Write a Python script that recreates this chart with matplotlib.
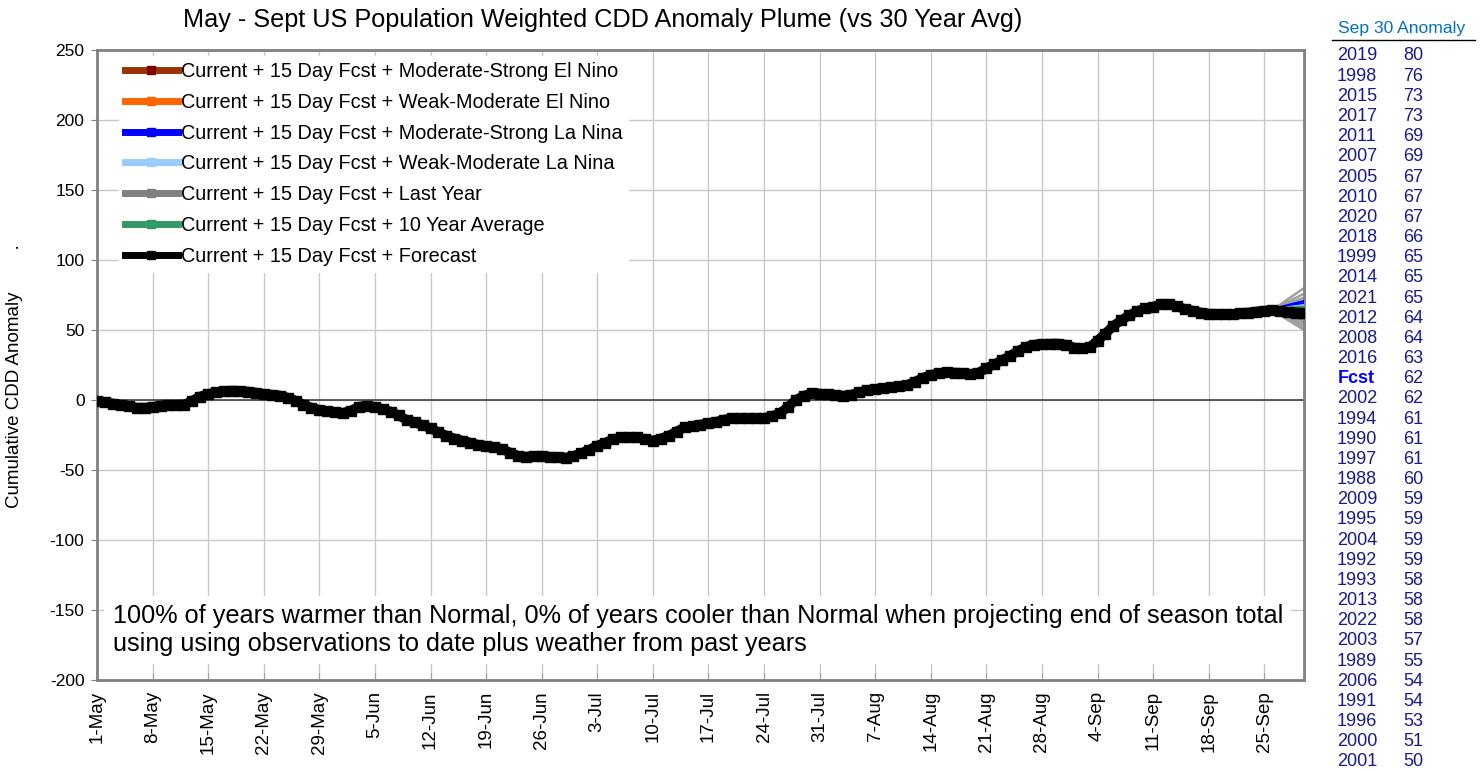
import matplotlib
matplotlib.use("Agg")
import matplotlib.pyplot as plt
from matplotlib.lines import Line2D

plt.rcParams['font.family'] = ['Liberation Sans', 'DejaVu Sans']
plt.rcParams['axes.unicode_minus'] = False

# cumulative CDD anomaly, one value per day from 1-May to 30-Sep
forecast = [
    -0.5, -1.5, -2.5, -3.5, -4.5, -5.5, -5.5, -5.0, -4.0, -3.8,
    -3.5, -3.3, -0.5, 2.5, 4.3, 5.5, 6.3, 6.7, 6.5, 6.0,
    5.3, 4.3, 3.8, 3.2, 1.7, -0.5, -3.3, -5.5, -7.0, -8.0,
    -8.8, -9.2, -7.5, -4.8, -4.2, -5.0, -6.5, -8.3, -11.0, -14.3,
    -16.0, -17.9, -20.2, -23.0, -25.5, -27.5, -29.0, -30.5, -32.0, -33.0,
    -33.5, -35.0, -37.5, -39.8, -40.5, -40.0, -39.8, -40.5, -41.0, -41.2,
    -40.0, -38.0, -35.5, -32.6, -30.5, -28.0, -26.7, -26.5, -26.7, -28.0,
    -29.0, -27.5, -25.5, -22.5, -19.5, -18.5, -17.5, -16.7, -15.5, -14.0,
    -12.9, -12.8, -12.9, -13.0, -12.9, -11.5, -9.5, -5.0, 0.0, 3.0,
    4.8, 4.6, 4.0, 3.4, 3.1, 3.8, 5.5, 7.0, 7.9, 8.5,
    9.2, 10.0, 10.7, 13.0, 15.8, 17.9, 19.0, 19.8, 19.6, 19.2,
    18.6, 19.5, 22.6, 25.5, 28.5, 31.7, 35.0, 38.0, 39.5, 40.0,
    40.2, 40.3, 39.5, 37.5, 36.9, 37.6, 42.4, 47.5, 53.0, 57.0,
    60.5, 63.5, 65.5, 66.7, 68.3, 68.5, 66.8, 65.0, 63.8, 62.5,
    61.7, 61.4, 61.2, 61.3, 61.9, 62.5, 63.2, 63.8, 64.2, 63.5,
    63.0, 62.5, 62.0,
]
plume_start_day = 148

scenario_names = [
    "Current + 15 Day Fcst + Moderate-Strong El Nino",
    "Current + 15 Day Fcst + Weak-Moderate El Nino",
    "Current + 15 Day Fcst + Moderate-Strong La Nina",
    "Current + 15 Day Fcst + Weak-Moderate La Nina",
    "Current + 15 Day Fcst + Last Year",
    "Current + 15 Day Fcst + 10 Year Average",
    "Current + 15 Day Fcst + Forecast",
]
scenario_end = [60, 61, 70, 67, 58, 66, 62]
scenario_colors = ['#993300', '#FF6600', '#0000FF', '#99CCFF', '#808080', '#339966', '#000000']
marker_colors = ['#800000', '#FF6600', '#0000FF', '#99CCFF', '#808080', '#339966', '#000000']

table_years = ['2019', '1998', '2015', '2017', '2011', '2007', '2005', '2010', '2020',
               '2018', '1999', '2014', '2021', '2012', '2008', '2016', 'Fcst', '2002',
               '1994', '1990', '1997', '1988', '2009', '1995', '2004', '1992', '1993',
               '2013', '2022', '2003', '1989', '2006', '1991', '1996', '2000', '2001']
table_values = [80, 76, 73, 73, 69, 69, 67, 67, 67, 66, 65, 65, 65, 64, 64, 63, 62, 62,
                61, 61, 61, 60, 59, 59, 59, 59, 58, 58, 58, 57, 55, 54, 54, 53, 51, 50]

tick_days = list(range(0, 148, 7))
tick_labels = ["1-May", "8-May", "15-May", "22-May", "29-May", "5-Jun", "12-Jun",
               "19-Jun", "26-Jun", "3-Jul", "10-Jul", "17-Jul", "24-Jul", "31-Jul",
               "7-Aug", "14-Aug", "21-Aug", "28-Aug", "4-Sep", "11-Sep", "18-Sep",
               "25-Sep"]

W, H = 1481, 772
fig = plt.figure(figsize=(W / 100, H / 100), dpi=100)
ax = fig.add_axes([97 / W, 1 - 680 / H, (1304 - 97) / W, (680 - 50) / H])

days = list(range(len(forecast)))
last = len(forecast) - 1
start_val = forecast[plume_start_day]

# past years plume
for yr, v in zip(table_years, table_values):
    if yr == 'Fcst':
        continue
    ax.plot([plume_start_day, last], [start_val, v], color='#A0A0A0', lw=1.8, zorder=2)

# scenario lines
for name, v, c in zip(scenario_names[:-1], scenario_end[:-1], scenario_colors[:-1]):
    ax.plot([plume_start_day, last], [start_val, v], color=c, lw=3, zorder=3)

ax.plot(days, forecast, color='black', lw=7, marker='s', ms=7, zorder=4)

ax.axhline(0, color='#404040', lw=1.2, zorder=1.5)
ax.set_xlim(0, last)
ax.set_ylim(-200, 250)
ax.set_yticks(range(-200, 251, 50))
ax.set_xticks(tick_days)
ax.set_xticklabels(tick_labels, rotation=90, fontsize=13.5)
ax.tick_params(axis='y', labelsize=12.5, length=4, color='#808080', pad=5)
ax.tick_params(axis='x', direction='in', length=5, color='#A0A0A0', pad=8)
ax.grid(True, color='#C8C8C8', lw=1, zorder=0)
ax.set_axisbelow(True)
for s in ax.spines.values():
    s.set_color('#808080')
    s.set_linewidth(2)

fig.text(15 / W, 1 - 376 / H, "Cumulative CDD Anomaly        .", fontsize=13.5,
         rotation=90, ha='center', va='center')

handles = [Line2D([0], [0], color=c, lw=5, marker='s', ms=6, markerfacecolor=m,
                  markeredgecolor=m) for c, m in zip(scenario_colors, marker_colors)]
leg = ax.legend(handles, scenario_names, loc='upper left', fontsize=14.3,
                frameon=True, framealpha=1, edgecolor='white', handlelength=2.7,
                handletextpad=0.12, labelspacing=0.59, borderpad=0.3,
                borderaxespad=0, bbox_to_anchor=(0.018, 0.99))
leg.set_zorder(5)

ax.text(0.013, 0.079, "100% of years warmer than Normal, 0% of years cooler than Normal when projecting end of season total\n"
        "using using observations to date plus weather from past years",
        transform=ax.transAxes, fontsize=18.2, va='center', ha='left', linespacing=1.2,
        bbox=dict(facecolor='white', edgecolor='none', pad=6), zorder=6)

fig.text(603 / W, 1 - 20 / H,
         "May - Sept US Population Weighted CDD Anomaly Plume (vs 30 Year Avg)",
         fontsize=18.2, ha='center', va='center')

# right side ranking table
fig.text(1402 / W, 1 - 28 / H, "Sep 30 Anomaly", fontsize=12.6, color='#0070C0',
         ha='center', va='center')
fig.add_artist(Line2D([1332 / W, 1475 / W], [1 - 40 / H, 1 - 40 / H], color='black', lw=1))
row_gap = (762 - 56) / (len(table_years) - 1)
for i, (yr, v) in enumerate(zip(table_years, table_values)):
    yy = 1 - (56 + i * row_gap) / H
    if yr == 'Fcst':
        fig.text(1338 / W, yy, yr, fontsize=13, color='#0000FF', weight='bold', va='center')
    else:
        fig.text(1337 / W, yy, yr, fontsize=13, color='#1A1A8C', va='center')
    fig.text(1403 / W, yy, str(v), fontsize=13, color='#1A1A8C', va='center')

fig.savefig('out.png', dpi=100)
